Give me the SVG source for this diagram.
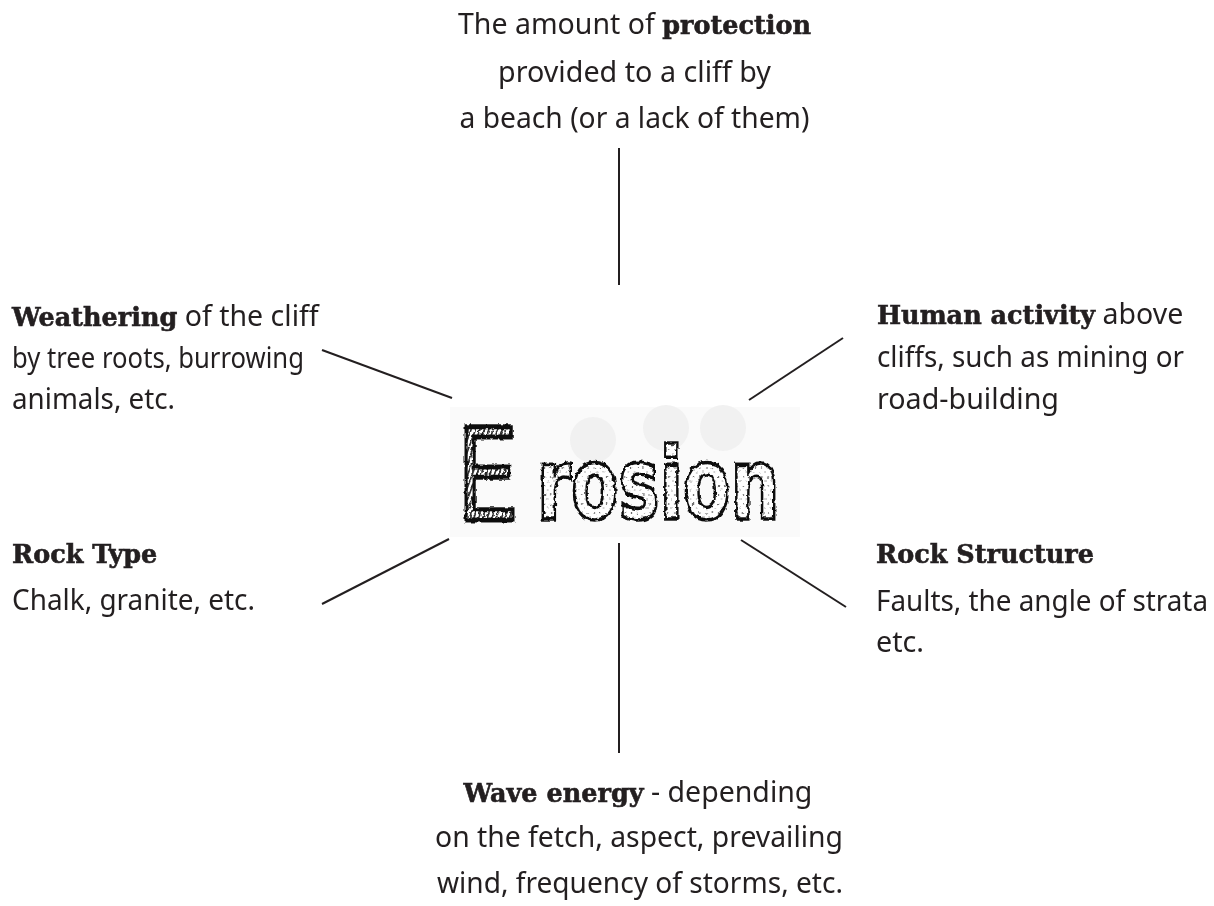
<svg xmlns="http://www.w3.org/2000/svg" width="1214" height="906" viewBox="0 0 1214 906">
  <style>
    .t { font-family: "Noto Sans", "Open Sans", sans-serif; font-size: 28.5px; fill: #231f20; }
    .b { font-family: "DejaVu Serif", "Liberation Serif", serif; font-weight: bold; font-size: 25.5px; stroke: #231f20; stroke-width: 0.6; }
    .c { text-anchor: middle; }
    .link { stroke: #231f20; stroke-width: 2; fill: none; }
  </style>
  <defs>
    <pattern id="hatch" width="6" height="6" patternUnits="userSpaceOnUse" patternTransform="rotate(30)">
      <rect width="6" height="6" fill="#ffffff"/>
      <rect width="2.2" height="6" fill="#222"/>
    </pattern>
    <pattern id="speckle" width="9" height="9" patternUnits="userSpaceOnUse">
      <rect width="9" height="9" fill="#ffffff"/>
      <circle cx="2" cy="3" r="1" fill="#555"/>
      <circle cx="6.5" cy="7" r="0.8" fill="#777"/>
    </pattern>
    <filter id="rough" x="-10%" y="-10%" width="120%" height="120%">
      <feTurbulence type="fractalNoise" baseFrequency="0.2" numOctaves="2" seed="3" result="n"/>
      <feDisplacementMap in="SourceGraphic" in2="n" scale="4" xChannelSelector="R" yChannelSelector="G"/>
    </filter>
  </defs>
  <rect width="1214" height="906" fill="#ffffff"/>

  <!-- connectors -->
  <g id="connectors">
    <line class="link" x1="619" y1="148" x2="619" y2="285"/>
    <line class="link" x1="322" y1="350" x2="452" y2="398"/>
    <line class="link" x1="843" y1="338" x2="749" y2="400"/>
    <line class="link" x1="449" y1="539" x2="322" y2="604"/>
    <line class="link" x1="741" y1="540" x2="846" y2="607"/>
    <line class="link" x1="619" y1="543" x2="619" y2="753"/>
  </g>

  <!-- centre: hand-lettered Erosion -->
  <g id="erosion">
    <rect x="450" y="407" width="350" height="130" fill="#fafafa"/>
    <circle cx="593" cy="440" r="23" fill="#f1f1f1"/>
    <circle cx="666" cy="428" r="23" fill="#f1f1f1"/>
    <circle cx="723" cy="428" r="23" fill="#f1f1f1"/>
    <g filter="url(#rough)">
      <text transform="translate(459 520) scale(0.64 1)" font-family="Liberation Sans, Arial, sans-serif" font-size="135" fill="url(#hatch)" stroke="#111" stroke-width="5">E</text>
      <text transform="translate(537 519) scale(0.69 1)" font-family="DejaVu Sans, sans-serif" font-weight="bold" font-size="100" fill="url(#speckle)" stroke="#111" stroke-width="3.6">rosion</text>
    </g>
  </g>

  <g id="protection">
    <text class="t c" x="634.5" y="34">The amount of <tspan class="b">protection</tspan></text>
    <text class="t c" x="634.5" y="81.5" textLength="273" lengthAdjust="spacingAndGlyphs">provided to a cliff by</text>
    <text class="t c" x="634.5" y="128" textLength="350" lengthAdjust="spacingAndGlyphs">a beach (or a lack of them)</text>
  </g>

  <g id="weathering">
    <text class="t" x="12" y="326"><tspan class="b">Weathering</tspan> of the cliff</text>
    <text class="t" x="12" y="368" textLength="292" lengthAdjust="spacingAndGlyphs">by tree roots, burrowing</text>
    <text class="t" x="12" y="409" textLength="163" lengthAdjust="spacingAndGlyphs">animals, etc.</text>
  </g>

  <g id="human-activity">
    <text class="t" x="877" y="324"><tspan class="b">Human activity</tspan> above</text>
    <text class="t" x="877" y="367" textLength="307" lengthAdjust="spacingAndGlyphs">cliffs, such as mining or</text>
    <text class="t" x="877" y="409" textLength="182" lengthAdjust="spacingAndGlyphs">road-building</text>
  </g>

  <g id="rock-type">
    <text class="t" x="12" y="563"><tspan class="b">Rock Type</tspan></text>
    <text class="t" x="12" y="610" textLength="243" lengthAdjust="spacingAndGlyphs">Chalk, granite, etc.</text>
  </g>

  <g id="rock-structure">
    <text class="t" x="876" y="563"><tspan class="b">Rock Structure</tspan></text>
    <text class="t" x="876" y="611" textLength="332" lengthAdjust="spacingAndGlyphs">Faults, the angle of strata</text>
    <text class="t" x="876" y="652" textLength="48" lengthAdjust="spacingAndGlyphs">etc.</text>
  </g>

  <g id="wave-energy">
    <text class="t c" x="638" y="802"><tspan class="b">Wave energy</tspan> - depending</text>
    <text class="t c" x="639" y="847" textLength="408" lengthAdjust="spacingAndGlyphs">on the fetch, aspect, prevailing</text>
    <text class="t c" x="640" y="893" textLength="406" lengthAdjust="spacingAndGlyphs">wind, frequency of storms, etc.</text>
  </g>
</svg>
